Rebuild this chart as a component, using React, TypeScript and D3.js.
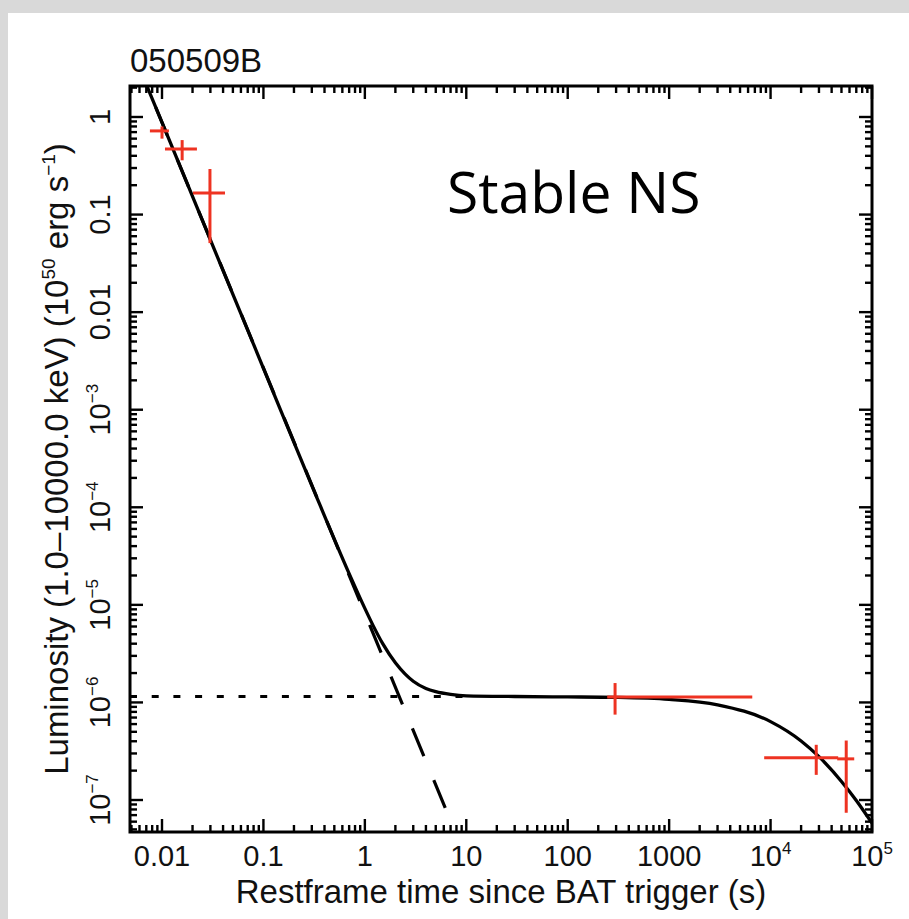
import React from "react";
import * as d3 from "d3";

const W = 909;
const H = 919;
const PLOT = { left: 130, top: 86, right: 872, bottom: 832 };

// axis ranges (log)
const xDomain = [0.004836, 1e5];
const yDomain = [4.7e-8, 2.078];

// tick labels
const xTickValues = [0.01, 0.1, 1, 10, 100, 1000, 1e4, 1e5];
const xTickBase = ["0.01", "0.1", "1", "10", "100", "1000", "10", "10"];
const xTickSup = ["", "", "", "", "", "", "4", "5"];
const yTickValues = [1, 0.1, 0.01, 1e-3, 1e-4, 1e-5, 1e-6, 1e-7];
const yTickBase = ["1", "0.1", "0.01", "10", "10", "10", "10", "10"];
const yTickSup = ["", "", "", "\u22123", "\u22124", "\u22125", "\u22126", "\u22127"];

// best-fit model (solid)
const modelT = [0.0071, 0.01, 0.03, 0.1, 0.3, 0.7, 1, 1.2, 1.5, 2, 2.5, 3, 4, 5, 7, 10, 30, 100, 300, 1000, 3000, 1e4, 2e4, 3e4, 5e4, 7e4, 1e5];
const modelL = [2.08, 0.88, 0.055, 2.66e-3, 1.67e-4, 2.09e-5, 9.2e-6, 6.2e-6, 4.0e-6, 2.55e-6, 1.95e-6, 1.65e-6, 1.39e-6, 1.29e-6, 1.21e-6, 1.17e-6, 1.15e-6, 1.14e-6, 1.127e-6, 1.075e-6, 9.45e-7, 6.36e-7, 4.03e-7, 2.78e-7, 1.55e-7, 9.9e-8, 5.8e-8];

// steep decay component (dashed), drawn from its lower end upward
const decayT = [6.2, 0.0071];
const decayL = [8.3e-8, 2.08];

// plateau component (dotted)
const plateauT = [0.004836, 10];
const plateauL = [1.15e-6, 1.15e-6];

// observed points with error bars
const obsT = [0.01, 0.0158, 0.0297, 293, 28200, 55700];
const obsTlo = [0.0076, 0.0107, 0.0202, 245, 8650, 45400];
const obsThi = [0.0117, 0.0221, 0.0418, 6600, 46400, 66800];
const obsL = [0.72, 0.47, 0.166, 1.14e-6, 2.71e-7, 2.64e-7];
const obsLlo = [0.6, 0.36, 0.051, 7.5e-7, 1.81e-7, 7.4e-8];
const obsLhi = [0.8, 0.58, 0.293, 1.58e-6, 3.68e-7, 4.07e-7];

const RED = "#ee3322";
const FONT = "'Liberation Sans', Arial, Helvetica, sans-serif";

function minorTicks(domain: number[]) {
  const out: { v: number; major: boolean }[] = [];
  const lo = Math.floor(Math.log10(domain[0]));
  const hi = Math.ceil(Math.log10(domain[1]));
  for (let k = lo; k <= hi; k++) {
    for (let m = 1; m <= 9; m++) {
      const v = m * Math.pow(10, k);
      if (v >= domain[0] * 0.9999 && v <= domain[1] * 1.0001) out.push({ v, major: m === 1 });
    }
  }
  return out;
}

export default function App() {
  const x = d3.scaleLog().domain(xDomain).range([PLOT.left, PLOT.right]);
  const y = d3.scaleLog().domain(yDomain).range([PLOT.bottom, PLOT.top]);

  const line = d3
    .line<[number, number]>()
    .x((d) => x(d[0]))
    .y((d) => y(d[1]));
  const smooth = d3
    .line<[number, number]>()
    .x((d) => x(d[0]))
    .y((d) => y(d[1]))
    .curve(d3.curveMonotoneX);

  const modelPath = smooth(modelT.map((t, i) => [t, modelL[i]] as [number, number])) || "";
  const decayPath = line(decayT.map((t, i) => [t, decayL[i]] as [number, number])) || "";
  const plateauPath = line(plateauT.map((t, i) => [t, plateauL[i]] as [number, number])) || "";

  const xt = minorTicks(xDomain);
  const yt = minorTicks(yDomain);
  const MAJ = 13;
  const MIN = 7;

  return (
    <svg
      width={W}
      height={H}
      style={{ position: "absolute", left: 0, top: 0, display: "block" }}
      xmlns="http://www.w3.org/2000/svg"
    >
      <defs>
        <clipPath id="plotclip">
          <rect x={PLOT.left} y={PLOT.top} width={PLOT.right - PLOT.left} height={PLOT.bottom - PLOT.top} />
        </clipPath>
      </defs>
      <rect x={0} y={0} width={W} height={H} fill="#d9d9d9" />
      <rect x={8} y={13} width={W - 8} height={H - 13} fill="#ffffff" />

      {/* title */}
      <text x={130} y={72} fontFamily={FONT} fontSize={33} fill="#111">
        050509B
      </text>

      {/* lines */}
      <g clipPath="url(#plotclip)" fill="none">
        <path d={plateauPath} stroke="#000" strokeWidth={3.2} strokeDasharray="7 14.7" />
        <path d={decayPath} stroke="#000" strokeWidth={3.2} strokeDasharray="30 26" />
        <path d={modelPath} stroke="#000" strokeWidth={3.3} />
        {obsT.map((t, i) => (
          <g key={i} stroke={RED} strokeWidth={3}>
            <line x1={x(obsTlo[i])} x2={x(obsThi[i])} y1={y(obsL[i])} y2={y(obsL[i])} />
            <line x1={x(t)} x2={x(t)} y1={y(obsLlo[i])} y2={y(obsLhi[i])} />
          </g>
        ))}
      </g>

      {/* ticks */}
      <g stroke="#000" strokeWidth={2.4}>
        {xt.map((d, i) => {
          const px = x(d.v);
          const l = d.major ? MAJ : MIN;
          return (
            <g key={"x" + i}>
              <line x1={px} x2={px} y1={PLOT.bottom} y2={PLOT.bottom - l} />
              <line x1={px} x2={px} y1={PLOT.top} y2={PLOT.top + l} />
            </g>
          );
        })}
        {yt.map((d, i) => {
          const py = y(d.v);
          const l = d.major ? MAJ : MIN;
          return (
            <g key={"y" + i}>
              <line x1={PLOT.left} x2={PLOT.left + l} y1={py} y2={py} />
              <line x1={PLOT.right} x2={PLOT.right - l} y1={py} y2={py} />
            </g>
          );
        })}
      </g>

      {/* frame */}
      <rect
        x={PLOT.left}
        y={PLOT.top}
        width={PLOT.right - PLOT.left}
        height={PLOT.bottom - PLOT.top}
        fill="none"
        stroke="#000"
        strokeWidth={3}
      />

      {/* x tick labels */}
      {xTickValues.map((v, i) => (
        <text key={"xl" + i} x={x(v)} y={866} textAnchor="middle" fontFamily={FONT} fontSize={29} fill="#111">
          {xTickBase[i]}
          {xTickSup[i] && (
            <tspan dy={-12} fontSize={17}>
              {xTickSup[i]}
            </tspan>
          )}
        </text>
      ))}

      {/* y tick labels */}
      {yTickValues.map((v, i) => (
        <text
          key={"yl" + i}
          transform={`translate(110,${y(v)}) rotate(-90)`}
          textAnchor="middle"
          fontFamily={FONT}
          fontSize={29}
          fill="#111"
        >
          {yTickBase[i]}
          {yTickSup[i] && (
            <tspan dy={-12} fontSize={17}>
              {yTickSup[i]}
            </tspan>
          )}
        </text>
      ))}

      {/* axis titles */}
      <text x={(PLOT.left + PLOT.right) / 2} y={903} textAnchor="middle" fontFamily={FONT} fontSize={33} fill="#111">
        Restframe time since BAT trigger (s)
      </text>
      <text
        transform={`translate(68,${(PLOT.top + PLOT.bottom) / 2}) rotate(-90)`}
        textAnchor="middle"
        fontFamily={FONT}
        fontSize={33}
        fill="#111"
      >
        Luminosity (1.0–10000.0 keV) (10
        <tspan dy={-13} fontSize={19}>
          50
        </tspan>
        <tspan dy={13}> erg s</tspan>
        <tspan dy={-13} fontSize={19}>
          −1
        </tspan>
        <tspan dy={13}>)</tspan>
      </text>

      {/* annotation */}
      <text x={447} y={213} fontFamily="'Open Sans', sans-serif" fontSize={57} fill="#000">
        Stable NS
      </text>
    </svg>
  );
}
